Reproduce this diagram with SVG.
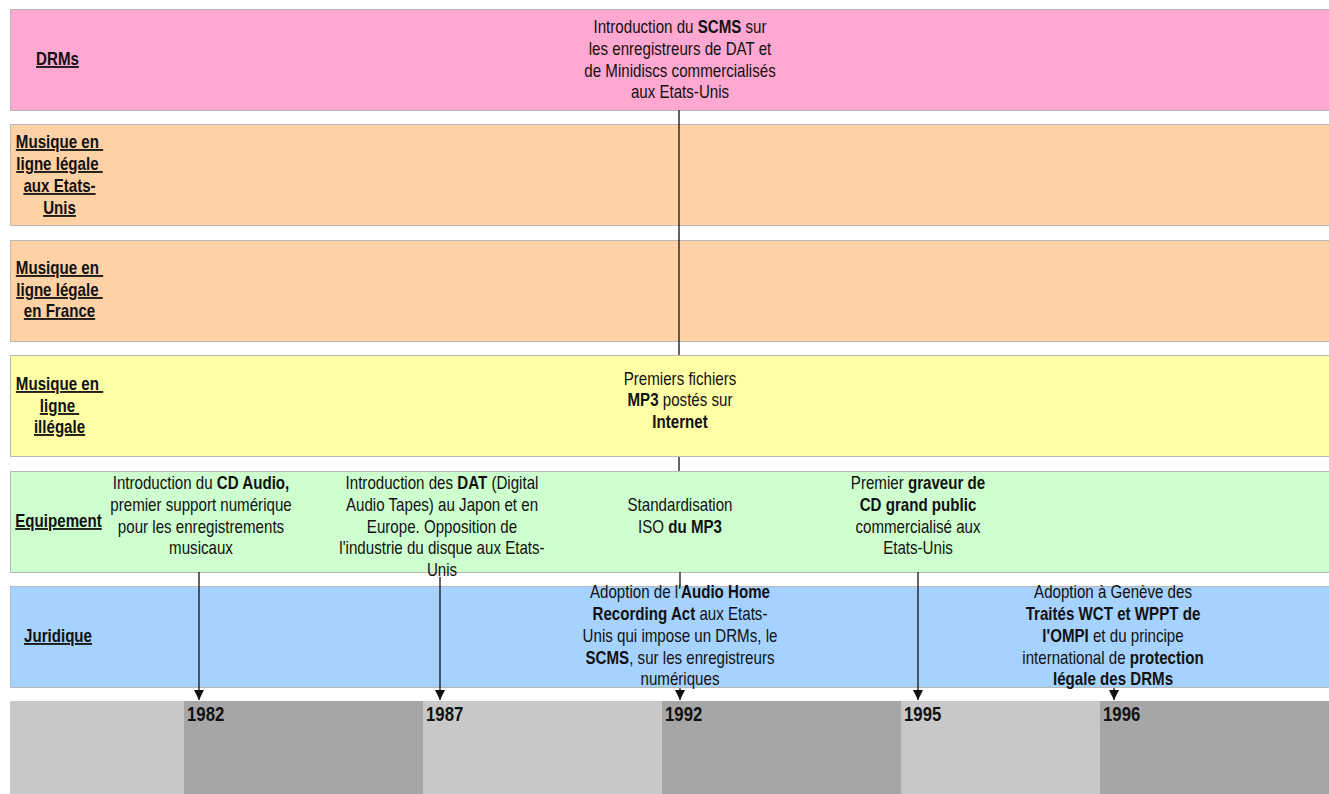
<svg xmlns="http://www.w3.org/2000/svg" width="1329" height="794" viewBox="0 0 1329 794">
<style>
text{font-family:"Liberation Sans",Arial,sans-serif;font-size:18px;fill:#111;}
.c text,text.c{text-anchor:middle;}
.lab text{font-weight:bold;text-decoration:underline;text-anchor:middle;}
.b{font-weight:bold;}
.yr{font-weight:bold;font-size:19.5px;}
.band{stroke:#b8b8b8;stroke-width:1;}
.conn line{stroke:#111;stroke-width:1.3;}
</style>
<defs>
<marker id="ah" markerWidth="10" markerHeight="10" refX="10" refY="5" orient="auto" markerUnits="userSpaceOnUse" viewBox="0 0 10 10">
<path d="M0,0 L10,5 L0,10 Z" fill="#111"/>
</marker>
</defs>
<rect width="1329" height="794" fill="#fff"/>

<g id="timeline">
<rect x="10" y="701" width="174" height="93" fill="#c8c8c8"/>
<rect x="184" y="701" width="239" height="93" fill="#a6a6a6"/>
<rect x="423" y="701" width="239" height="93" fill="#c8c8c8"/>
<rect x="662" y="701" width="239" height="93" fill="#a6a6a6"/>
<rect x="901" y="701" width="199" height="93" fill="#c8c8c8"/>
<rect x="1100" y="701" width="229" height="93" fill="#a6a6a6"/>
<text class="yr" transform="translate(187,721) scale(0.86,1)">1982</text>
<text class="yr" transform="translate(426,721) scale(0.86,1)">1987</text>
<text class="yr" transform="translate(665,721) scale(0.86,1)">1992</text>
<text class="yr" transform="translate(904,721) scale(0.86,1)">1995</text>
<text class="yr" transform="translate(1103,721) scale(0.86,1)">1996</text>
</g>

<g id="band-drms">
<rect class="band" x="10.5" y="9.5" width="1320" height="101" fill="#ffa8d2"/>
<g class="lab" transform="translate(57.5,0) scale(0.84,1)"><text x="0" y="65">DRMs</text></g>
</g>
<g id="band-legal-us">
<rect class="band" x="10.5" y="124.5" width="1320" height="101" fill="#ffd2a6"/>
<g class="lab" transform="translate(59.5,0) scale(0.84,1)">
<text x="0" y="148">Musique en&#160;</text>
<text x="0" y="170">ligne légale&#160;</text>
<text x="0" y="192">aux Etats-</text>
<text x="0" y="214">Unis</text>
</g>
</g>
<g id="band-legal-fr">
<rect class="band" x="10.5" y="240.5" width="1320" height="101" fill="#ffd2a6"/>
<g class="lab" transform="translate(59.5,0) scale(0.84,1)">
<text x="0" y="274">Musique en&#160;</text>
<text x="0" y="296">ligne légale&#160;</text>
<text x="0" y="317">en France</text>
</g>
</g>
<g id="band-illegal">
<rect class="band" x="10.5" y="355.5" width="1320" height="101" fill="#ffffa6"/>
<g class="lab" transform="translate(59.5,0) scale(0.84,1)">
<text x="0" y="390">Musique en&#160;</text>
<text x="0" y="412">ligne&#160;</text>
<text x="0" y="433">illégale</text>
</g>
</g>
<g id="band-equip">
<rect class="band" x="10.5" y="471.5" width="1320" height="101" fill="#ceffce"/>
<g class="lab" transform="translate(58.5,0) scale(0.84,1)"><text x="0" y="527">Equipement</text></g>
</g>
<g id="band-jur">
<rect class="band" x="10.5" y="586.5" width="1320" height="101" fill="#a6d2ff"/>
<g class="lab" transform="translate(58,0) scale(0.84,1)"><text x="0" y="642">Juridique</text></g>
</g>

<g class="conn" id="connectors">
<line x1="679" y1="110" x2="679" y2="355"/>
<line x1="679" y1="457" x2="679" y2="471"/>
<line x1="680" y1="572" x2="680" y2="586"/>
<line x1="680" y1="688" x2="680" y2="700" marker-end="url(#ah)"/>
<line x1="199" y1="572" x2="199" y2="700" marker-end="url(#ah)"/>
<line x1="440" y1="577" x2="440" y2="700" marker-end="url(#ah)"/>
<line x1="918" y1="572" x2="918" y2="700" marker-end="url(#ah)"/>
<line x1="1114" y1="688" x2="1114" y2="700" marker-end="url(#ah)"/>
</g>

<g id="ev-scms" class="c" transform="translate(680,0) scale(0.84,1)">
<text x="0" y="33">Introduction du <tspan class="b">SCMS</tspan> sur</text>
<text x="0" y="55">les enregistreurs de DAT et</text>
<text x="0" y="77">de Minidiscs commercialisés</text>
<text x="0" y="98">aux Etats-Unis</text>
</g>
<g id="ev-mp3files" class="c" transform="translate(680,0) scale(0.84,1)">
<text x="0" y="385">Premiers fichiers</text>
<text x="0" y="406"><tspan class="b">MP3</tspan> postés sur</text>
<text x="0" y="428" font-weight="bold">Internet</text>
</g>
<g id="ev-cd" class="c" transform="translate(201,0) scale(0.84,1)">
<text x="0" y="489">Introduction du <tspan class="b">CD Audio,</tspan></text>
<text x="0" y="511">premier support numérique</text>
<text x="0" y="533">pour les enregistrements</text>
<text x="0" y="554">musicaux</text>
</g>
<g id="ev-dat" class="c" transform="translate(442,0) scale(0.84,1)">
<text x="0" y="489">Introduction des <tspan class="b">DAT</tspan> (Digital</text>
<text x="0" y="511">Audio Tapes) au Japon et en</text>
<text x="0" y="533">Europe. Opposition de</text>
<text x="0" y="554">l'industrie du disque aux Etats-</text>
<text x="0" y="576">Unis</text>
</g>
<g id="ev-iso" class="c" transform="translate(680,0) scale(0.84,1)">
<text x="0" y="511">Standardisation</text>
<text x="0" y="533">ISO <tspan class="b">du MP3</tspan></text>
</g>
<g id="ev-burner" class="c" transform="translate(918,0) scale(0.84,1)">
<text x="0" y="489">Premier <tspan class="b">graveur de</tspan></text>
<text x="0" y="511" font-weight="bold">CD grand public</text>
<text x="0" y="533">commercialisé aux</text>
<text x="0" y="554">Etats-Unis</text>
</g>
<g id="ev-ahra" class="c" transform="translate(680,0) scale(0.84,1)">
<text x="0" y="598">Adoption de l'<tspan class="b">Audio Home</tspan></text>
<text x="0" y="620"><tspan class="b">Recording Act</tspan> aux Etats-</text>
<text x="0" y="642">Unis qui impose un DRMs, le</text>
<text x="0" y="664"><tspan class="b">SCMS</tspan>, sur les enregistreurs</text>
<text x="0" y="685">numériques</text>
</g>
<g id="ev-ompi" class="c" transform="translate(1113,0) scale(0.84,1)">
<text x="0" y="598">Adoption à Genève des</text>
<text x="0" y="620" font-weight="bold">Traités WCT et WPPT de</text>
<text x="0" y="642"><tspan class="b">l'OMPI</tspan> et du principe</text>
<text x="0" y="664">international de <tspan class="b">protection</tspan></text>
<text x="0" y="685" font-weight="bold">légale des DRMs</text>
</g>
</svg>
